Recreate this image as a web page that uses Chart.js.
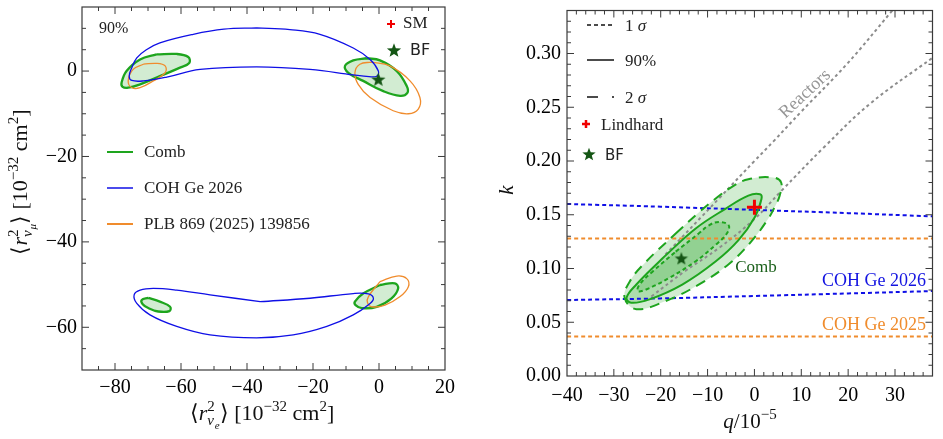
<!DOCTYPE html>
<html><head><meta charset="utf-8">
<script src="https://cdn.jsdelivr.net/npm/chart.js@4.4.1/dist/chart.umd.min.js"></script>
<style>
html,body{margin:0;padding:0;background:#fff;}
#wrap{position:relative;width:943px;height:439px;overflow:hidden;background:#fff;}
canvas{position:absolute;top:0;}
#c1{left:0;} #c2{left:470px;}
</style></head><body>
<div id="wrap"><canvas id="c1" width="470" height="439"></canvas><canvas id="c2" width="473" height="439"></canvas></div>
<script>
// ---------------- Left panel data: <r^2_nu_e> vs <r^2_nu_mu> (90% CL) ----------------
const leftXTicks = [-80, -60, -40, -20, 0, 20];
const leftYTicks = [-60, -40, -20, 0];
const combTopLeft = [[-67.4,3.9],[-61.3,4.0],[-57.8,3.3],[-57.5,1.9],[-60.3,0.8],[-66.4,-1.2],[-72.4,-3.1],[-76.0,-3.9],[-77.7,-3.7],[-78.0,-2.7],[-76.5,0],[-72.4,2.7]];
const combTopRight = [[-3.7,3.0],[0.3,2.5],[5.4,0],[8.4,-3.5],[8.6,-5.1],[6.4,-5.8],[1.3,-4.7],[-4.8,-2.3],[-9.3,-0.4],[-10.3,1.2],[-7.8,2.5]];
const combBottomLeft = [[-69.9,-53.1],[-66.4,-54.0],[-63.3,-55.2],[-63.5,-56.2],[-66.9,-56.3],[-69.9,-55.5],[-71.6,-54.6],[-71.9,-53.6]];
const combBottomRight = [[0.3,-50.1],[4.8,-49.7],[5.8,-50.9],[3.8,-53.2],[-0.7,-55.2],[-5.2,-55.5],[-7.1,-54.8],[-7.3,-54.0],[-4.8,-52.1]];
const cohTop = [[-37.1,10.1],[-27,9.7],[-17.9,8.6],[-7.8,5.4],[-2.7,2.7],[-0.2,0],[-0.7,-1.2],[-3,-1.3],[-7.8,-0.9],[-20.9,0.4],[-37.1,1.0],[-54.2,0.4],[-64.3,-1.4],[-71.4,-2.3],[-74.9,-2.2],[-75.7,-1.2],[-74.9,0.8],[-73.4,3.1],[-70.5,5.0],[-66.4,6.6],[-56.3,8.6],[-47,9.8]];
const cohBottom = [[-36.0,-54.0],[-20.9,-53.2],[-7.8,-52.1],[-3.2,-52.2],[-1.7,-53.2],[-2.7,-54.4],[-7.8,-57.1],[-15.8,-59.8],[-26.0,-61.8],[-37.1,-62.5],[-51.2,-61.8],[-61.3,-59.8],[-69.4,-57.1],[-73.4,-54.4],[-74.2,-52.4],[-72.4,-51.3],[-68.4,-50.9],[-61.3,-51.3],[-51.2,-52.4]];
const plbTopLeft = [[-71.4,1.6],[-67.3,1.8],[-64.8,1.2],[-64.8,-0.4],[-68.4,-2.3],[-72.4,-3.9],[-74.9,-3.9],[-76.0,-2.3],[-74.5,0.4]];
const plbTopRight = [[-2.2,2.1],[3.3,1.2],[9.4,-2.3],[12.4,-6.2],[11.9,-8.9],[8.9,-10.0],[4.3,-9.3],[-2.7,-6.2],[-6.3,-3.1],[-7.3,-0.4],[-5.8,1.6]];
const plbBottomRight = [[0.3,-49.3],[5.4,-48.0],[8.4,-48.6],[8.9,-50.5],[6.4,-52.8],[1.8,-54.8],[-2.2,-55.2],[-3.5,-54.2],[-3.2,-52.8]];
const leftBF = [[-0.2,-1.9]];

// ---------------- Right panel data: q vs k ----------------
const rightXTicks = [-40, -30, -20, -10, 0, 10, 20, 30];
const rightYTicks = [0, 0.05, 0.10, 0.15, 0.20, 0.25, 0.30];
const comb2sigma = [[-16.8,0.1325],[-11.9,0.152],[-8.0,0.166],[-4.8,0.176],[-1.3,0.183],[4.0,0.1846],[5.7,0.18],[5.4,0.168],[4.3,0.157],[2.9,0.146],[-0.7,0.125],[-5.5,0.104],[-11.9,0.085],[-18.8,0.070],[-25.2,0.0622],[-27.7,0.0728],[-26.6,0.088],[-23.1,0.1065]];
const comb90 = [[-19.6,0.1096],[-12.6,0.137],[-6.2,0.1555],[-1.3,0.1678],[1.2,0.169],[1.5,0.1646],[0.1,0.148],[-3.4,0.1264],[-8.3,0.1065],[-15.4,0.0851],[-22.4,0.0713],[-26.3,0.0682],[-27.3,0.0728],[-25.2,0.0851]];
const comb1sigma = [[-16.8,0.1157],[-11.9,0.1325],[-9.7,0.1402],[-7.6,0.1433],[-5.5,0.1402],[-5.9,0.1325],[-8.3,0.1219],[-12.6,0.1065],[-18.2,0.0912],[-23.1,0.0805],[-24.9,0.079],[-24.5,0.0851],[-21.7,0.0973]];
const reactorsUpper = [[-19,0.113],[-7.6,0.165],[0,0.200],[4.0,0.218],[10,0.246],[19.8,0.2905],[29,0.3377],[32,0.353]];
const reactorsLower = [[-22,0.074],[-15,0.097],[-7.6,0.119],[0,0.146],[5.7,0.172],[14.9,0.213],[24.7,0.2534],[38,0.296]];
const coh2026Upper = [[-40,0.160],[-20,0.1575],[0,0.1545],[20,0.1515],[38,0.1485]];
const coh2026Lower = [[-40,0.0707],[-20,0.0722],[0,0.0744],[20,0.0768],[38,0.079]];
const coh2025Upper = [[-40,0.128],[38,0.128]];
const coh2025Lower = [[-40,0.0367],[38,0.0367]];
const lindhard = [[0,0.157]];
const rightBF = [[-15.6,0.1095]];

// ---------------- styling helpers ----------------
const FONT = '"Liberation Serif","Times New Roman",Times,serif';
const SANS = '"DejaVu Sans",sans-serif';
const GREEN = 'rgb(30,165,30)';
const FILL = 'rgba(30,160,30,0.2)';
const BLUE = 'rgb(15,15,230)';
const ORANGE = 'rgb(240,140,45)';
const GRAY = 'rgb(140,140,140)';
const STAR = 'rgb(20,85,20)';

function pts(a){ return a.map(p => ({x:p[0], y:p[1]})); }
function loop(a){ return pts(a.concat([a[0]])); }
function fmtMinus(v){ return v < 0 ? '\u2212' + Math.abs(v) : String(v); }

function starPath(ctx, cx, cy, r){
  ctx.beginPath();
  for (let i = 0; i < 10; i++){
    const a = -Math.PI/2 + i*Math.PI/5, rr = (i % 2) ? r*0.42 : r;
    ctx.lineTo(cx + rr*Math.cos(a), cy + rr*Math.sin(a));
  }
  ctx.closePath();
}
function starCanvas(r, color){
  const c = document.createElement('canvas');
  c.width = c.height = Math.ceil(2*r + 2);
  const g = c.getContext('2d');
  g.fillStyle = color; starPath(g, c.width/2, c.height/2 + r*0.1, r); g.fill();
  return c;
}
function drawStar(ctx, x, y, r){ ctx.save(); ctx.fillStyle = STAR; starPath(ctx, x, y + r*0.1, r); ctx.fill(); ctx.restore(); }
function drawCross(ctx, x, y, r, w){
  ctx.save(); ctx.strokeStyle = 'rgb(240,0,0)'; ctx.lineWidth = w;
  ctx.beginPath(); ctx.moveTo(x-r, y); ctx.lineTo(x+r, y); ctx.moveTo(x, y-r); ctx.lineTo(x, y+r); ctx.stroke(); ctx.restore();
}
function fontOf(p, base){ return (p.i ? 'italic ' : '') + (p.s || base) + 'px ' + (p.f || FONT); }
function drawRich(ctx, parts, x, y, base, color, align){
  let cur = 0, prevStart = 0; const items = [];
  for (const p of parts){
    ctx.font = fontOf(p, base);
    const w = ctx.measureText(p.t).width;
    let start;
    if (p.stack){ start = prevStart; cur = Math.max(cur, start + w); }
    else { start = cur; cur = cur + w; prevStart = start; }
    items.push({p, start});
  }
  const x0 = align === 'left' ? x : x - cur/2;
  ctx.save(); ctx.fillStyle = color; ctx.textAlign = 'left'; ctx.textBaseline = 'alphabetic';
  for (const it of items){ ctx.font = fontOf(it.p, base); ctx.fillText(it.p.t, x0 + it.start, y + (it.p.dy || 0)); }
  ctx.restore();
}
function text(ctx, t, x, y, font, color, align, base){
  ctx.save(); ctx.font = font; ctx.fillStyle = color; ctx.textAlign = align || 'left'; ctx.textBaseline = base || 'middle';
  ctx.fillText(t, x, y); ctx.restore();
}
function legLine(ctx, x1, x2, y, color, w, dash){
  ctx.save(); ctx.strokeStyle = color; ctx.lineWidth = w; ctx.setLineDash(dash || []);
  ctx.beginPath(); ctx.moveTo(x1, y); ctx.lineTo(x2, y); ctx.stroke(); ctx.restore();
}
function drawFrame(chart, xMajor, xStep, yMajor, yStep){
  const {ctx, chartArea:a} = chart, sx = chart.scales.x, sy = chart.scales.y;
  ctx.save(); ctx.strokeStyle = '#3a3a3a'; ctx.lineWidth = 1.2;
  ctx.strokeRect(a.left, a.top, a.right - a.left, a.bottom - a.top);
  ctx.lineWidth = 1;
  const seg = (x1,y1,x2,y2) => { ctx.beginPath(); ctx.moveTo(x1,y1); ctx.lineTo(x2,y2); ctx.stroke(); };
  const isMajor = (arr, v, st) => arr.some(m => Math.abs(m - v) < st*1e-3);
  for (let k = Math.ceil(sx.min/xStep - 1e-9); k*xStep <= sx.max + 1e-9; k++){
    const v = k*xStep, p = sx.getPixelForValue(v);
    if (p <= a.left + 1 || p >= a.right - 1) continue;
    const L = isMajor(xMajor, v, xStep) ? 7 : 4;
    seg(p, a.bottom, p, a.bottom - L); seg(p, a.top, p, a.top + L);
  }
  for (let k = Math.ceil(sy.min/yStep - 1e-9); k*yStep <= sy.max + 1e-9; k++){
    const v = k*yStep, p = sy.getPixelForValue(v);
    if (p <= a.top + 1 || p >= a.bottom - 1) continue;
    const L = isMajor(yMajor, v, yStep) ? 7 : 4;
    seg(a.left, p, a.left + L, p); seg(a.right, p, a.right - L, p);
  }
  ctx.restore();
}
function curve(data, color, width, dash, order){
  return {data, showLine:true, pointRadius:0, borderColor:color, borderWidth:width, borderDash:dash || [], tension:0.4, fill:false, order, borderCapStyle:'butt'};
}
function blob(data, order){
  return {data, showLine:true, pointRadius:0, borderColor:GREEN, borderWidth:2.3, backgroundColor:FILL, tension:0.4, fill:'shape', order};
}
function fillOnly(data, order){
  return {data, showLine:true, pointRadius:0, borderColor:'rgba(0,0,0,0)', borderWidth:0, backgroundColor:FILL, tension:0.4, fill:'shape', order};
}
function tickFont(){ return {family: FONT, size: 20}; }
function noPadX(s, h){ s.height = h; s.paddingLeft = 0; s.paddingRight = 0; }
function noPadY(s, w){ s.width = w; s.paddingTop = 0; s.paddingBottom = 0; }

const starImgL = starCanvas(7.5, STAR);
const starImgR = starCanvas(7, STAR);

// ---------------- Left chart ----------------
new Chart(document.getElementById('c1'), {
  type: 'scatter',
  data: { datasets: [
    blob(loop(combTopLeft), 6), blob(loop(combTopRight), 6), blob(loop(combBottomLeft), 6), blob(loop(combBottomRight), 6),
    curve(loop(plbTopLeft), ORANGE, 1.3, null, 4), curve(loop(plbTopRight), ORANGE, 1.3, null, 4), curve(loop(plbBottomRight), ORANGE, 1.3, null, 4),
    curve(loop(cohTop), BLUE, 1.3, null, 3), curve(loop(cohBottom), BLUE, 1.3, null, 3),
    {data: pts(leftBF), pointStyle: starImgL, pointRadius: 6, order: 1}
  ]},
  options: {
    responsive:false, animation:false, devicePixelRatio:1,
    layout: {padding: {top:5, right:25, left:0, bottom:0}},
    plugins: {legend:{display:false}, tooltip:{enabled:false}},
    scales: {
      x: {type:'linear', min:-90, max:20, grid:{display:false, drawTicks:false}, border:{display:false},
          ticks:{font:tickFont(), color:'#000', padding:6, maxRotation:0, autoSkip:false, callback:fmtMinus},
          afterBuildTicks: s => { s.ticks = leftXTicks.map(v => ({value:v})); },
          afterFit: s => noPadX(s, 69)},
      y: {type:'linear', min:-70, max:15, grid:{display:false, drawTicks:false}, border:{display:false},
          ticks:{font:tickFont(), color:'#000', padding:5, autoSkip:false, callback:fmtMinus},
          afterBuildTicks: s => { s.ticks = leftYTicks.map(v => ({value:v})); },
          afterFit: s => noPadY(s, 82)}
    }
  },
  plugins: [{
    id:'decoL',
    afterDraw(chart){
      const ctx = chart.ctx;
      drawFrame(chart, leftXTicks, 5, leftYTicks, 5);
      text(ctx, '90%', 99, 33, '16px ' + FONT, '#222', 'left', 'alphabetic');
      drawCross(ctx, 391, 24, 4, 2);
      text(ctx, 'SM', 403, 24, '17px ' + FONT, '#222');
      drawStar(ctx, 394, 50, 7.5);
      text(ctx, 'BF', 410, 51, '16px ' + SANS, '#222');
      legLine(ctx, 107, 133, 152, GREEN, 2);
      text(ctx, 'Comb', 144, 153, '17px ' + FONT, '#222');
      legLine(ctx, 107, 133, 188, BLUE, 1.5);
      text(ctx, 'COH Ge 2026', 144, 189, '17px ' + FONT, '#222');
      legLine(ctx, 107, 133, 224, ORANGE, 2);
      text(ctx, 'PLB 869 (2025) 139856', 144, 225, '17px ' + FONT, '#222');
      // axis titles
      drawRich(ctx, [{t:'\u27E8'},{t:'r',i:1},{t:'2',s:15,dy:-9},{t:'\u03BD',i:1,s:15,dy:5,stack:1},{t:'e',i:1,s:11,dy:9},{t:'\u27E9 [10'},{t:'\u221232',s:15,dy:-9},{t:' cm'},{t:'2',s:15,dy:-9},{t:']'}], 262, 420, 22, '#111', 'center');
      ctx.save(); ctx.translate(27, 182); ctx.rotate(-Math.PI/2);
      drawRich(ctx, [{t:'\u27E8'},{t:'r',i:1},{t:'2',s:15,dy:-9},{t:'\u03BD',i:1,s:15,dy:5,stack:1},{t:'\u03BC',i:1,s:11,dy:9},{t:'\u27E9 [10'},{t:'\u221232',s:15,dy:-9},{t:' cm'},{t:'2',s:15,dy:-9},{t:']'}], 0, 0, 22, '#111', 'center');
      ctx.restore();
    }
  }]
});

// ---------------- Right chart ----------------
new Chart(document.getElementById('c2'), {
  type: 'scatter',
  data: { datasets: [
    fillOnly(loop(comb2sigma), 12), fillOnly(loop(comb90), 11), fillOnly(loop(comb1sigma), 10),
    curve(pts(reactorsUpper), GRAY, 2, [3,3], 8), curve(pts(reactorsLower), GRAY, 2, [3,3], 8),
    curve(pts(coh2026Upper), BLUE, 2, [4,3], 7), curve(pts(coh2026Lower), BLUE, 2, [4,3], 7),
    curve(pts(coh2025Upper), ORANGE, 2, [4,3], 7), curve(pts(coh2025Lower), ORANGE, 2, [4,3], 7),
    curve(loop(comb2sigma), GREEN, 2, [10,7], 5), curve(loop(comb90), GREEN, 2, null, 5), curve(loop(comb1sigma), GREEN, 2, [4,3], 5),
    {data: pts(rightBF), pointStyle: starImgR, pointRadius: 6, order: 2},
    {data: pts(lindhard), pointStyle: 'cross', pointRadius: 7.5, borderColor:'rgb(240,0,0)', borderWidth:3, order: 1}
  ]},
  options: {
    responsive:false, animation:false, devicePixelRatio:1,
    layout: {padding: {top:5, right:7, left:0, bottom:0}},
    plugins: {legend:{display:false}, tooltip:{enabled:false}},
    scales: {
      x: {type:'linear', min:-40, max:38, grid:{display:false, drawTicks:false}, border:{display:false},
          ticks:{font:tickFont(), color:'#000', padding:8, maxRotation:0, autoSkip:false, callback:fmtMinus},
          afterBuildTicks: s => { s.ticks = rightXTicks.map(v => ({value:v})); },
          afterFit: s => noPadX(s, 63)},
      y: {type:'linear', min:0, max:0.34, grid:{display:false, drawTicks:false}, border:{display:false},
          ticks:{font:tickFont(), color:'#000', padding:6, autoSkip:false, callback: v => v.toFixed(2)},
          afterBuildTicks: s => { s.ticks = rightYTicks.map(v => ({value:v})); },
          afterFit: s => noPadY(s, 97)}
    }
  },
  plugins: [{
    id:'decoR',
    afterDraw(chart){
      const ctx = chart.ctx;
      drawFrame(chart, rightXTicks, 2, rightYTicks, 0.01);
      legLine(ctx, 117, 144, 25, '#111', 1.5, [4,3]);
      drawRich(ctx, [{t:'1 '},{t:'\u03C3',i:1}], 155, 31, 17, '#222', 'left');
      legLine(ctx, 117, 144, 60, '#111', 1.5);
      text(ctx, '90%', 155, 66, '17px ' + FONT, '#222', 'left', 'alphabetic');
      legLine(ctx, 117, 144, 97, '#111', 1.5, [11,14]);
      drawRich(ctx, [{t:'2 '},{t:'\u03C3',i:1}], 155, 103, 17, '#222', 'left');
      drawCross(ctx, 116, 124, 4, 2.5);
      text(ctx, 'Lindhard', 131, 126, '17px ' + FONT, '#222');
      drawStar(ctx, 119, 154, 7);
      text(ctx, 'BF', 135, 156, '15px ' + SANS, '#222');
      // annotations
      ctx.save(); ctx.translate(335, 94); ctx.rotate(-43 * Math.PI / 180);
      text(ctx, 'Reactors', 0, 0, '18px ' + FONT, 'rgb(150,150,150)', 'center');
      ctx.restore();
      text(ctx, 'Comb', 286, 268, '17px ' + FONT, 'rgb(25,95,25)', 'center');
      text(ctx, 'COH Ge 2026', 404, 281, '18px ' + FONT, 'rgb(20,20,225)', 'center');
      text(ctx, 'COH Ge 2025', 404, 325, '18px ' + FONT, 'rgb(240,140,45)', 'center');
      // axis titles
      drawRich(ctx, [{t:'q',i:1},{t:'/10'},{t:'\u22125',s:15,dy:-9}], 280, 428, 21, '#111', 'center');
      ctx.save(); ctx.translate(43, 190); ctx.rotate(-Math.PI/2);
      drawRich(ctx, [{t:'k',i:1}], 0, 0, 21, '#111', 'center');
      ctx.restore();
    }
  }]
});
</script>
</body></html>
